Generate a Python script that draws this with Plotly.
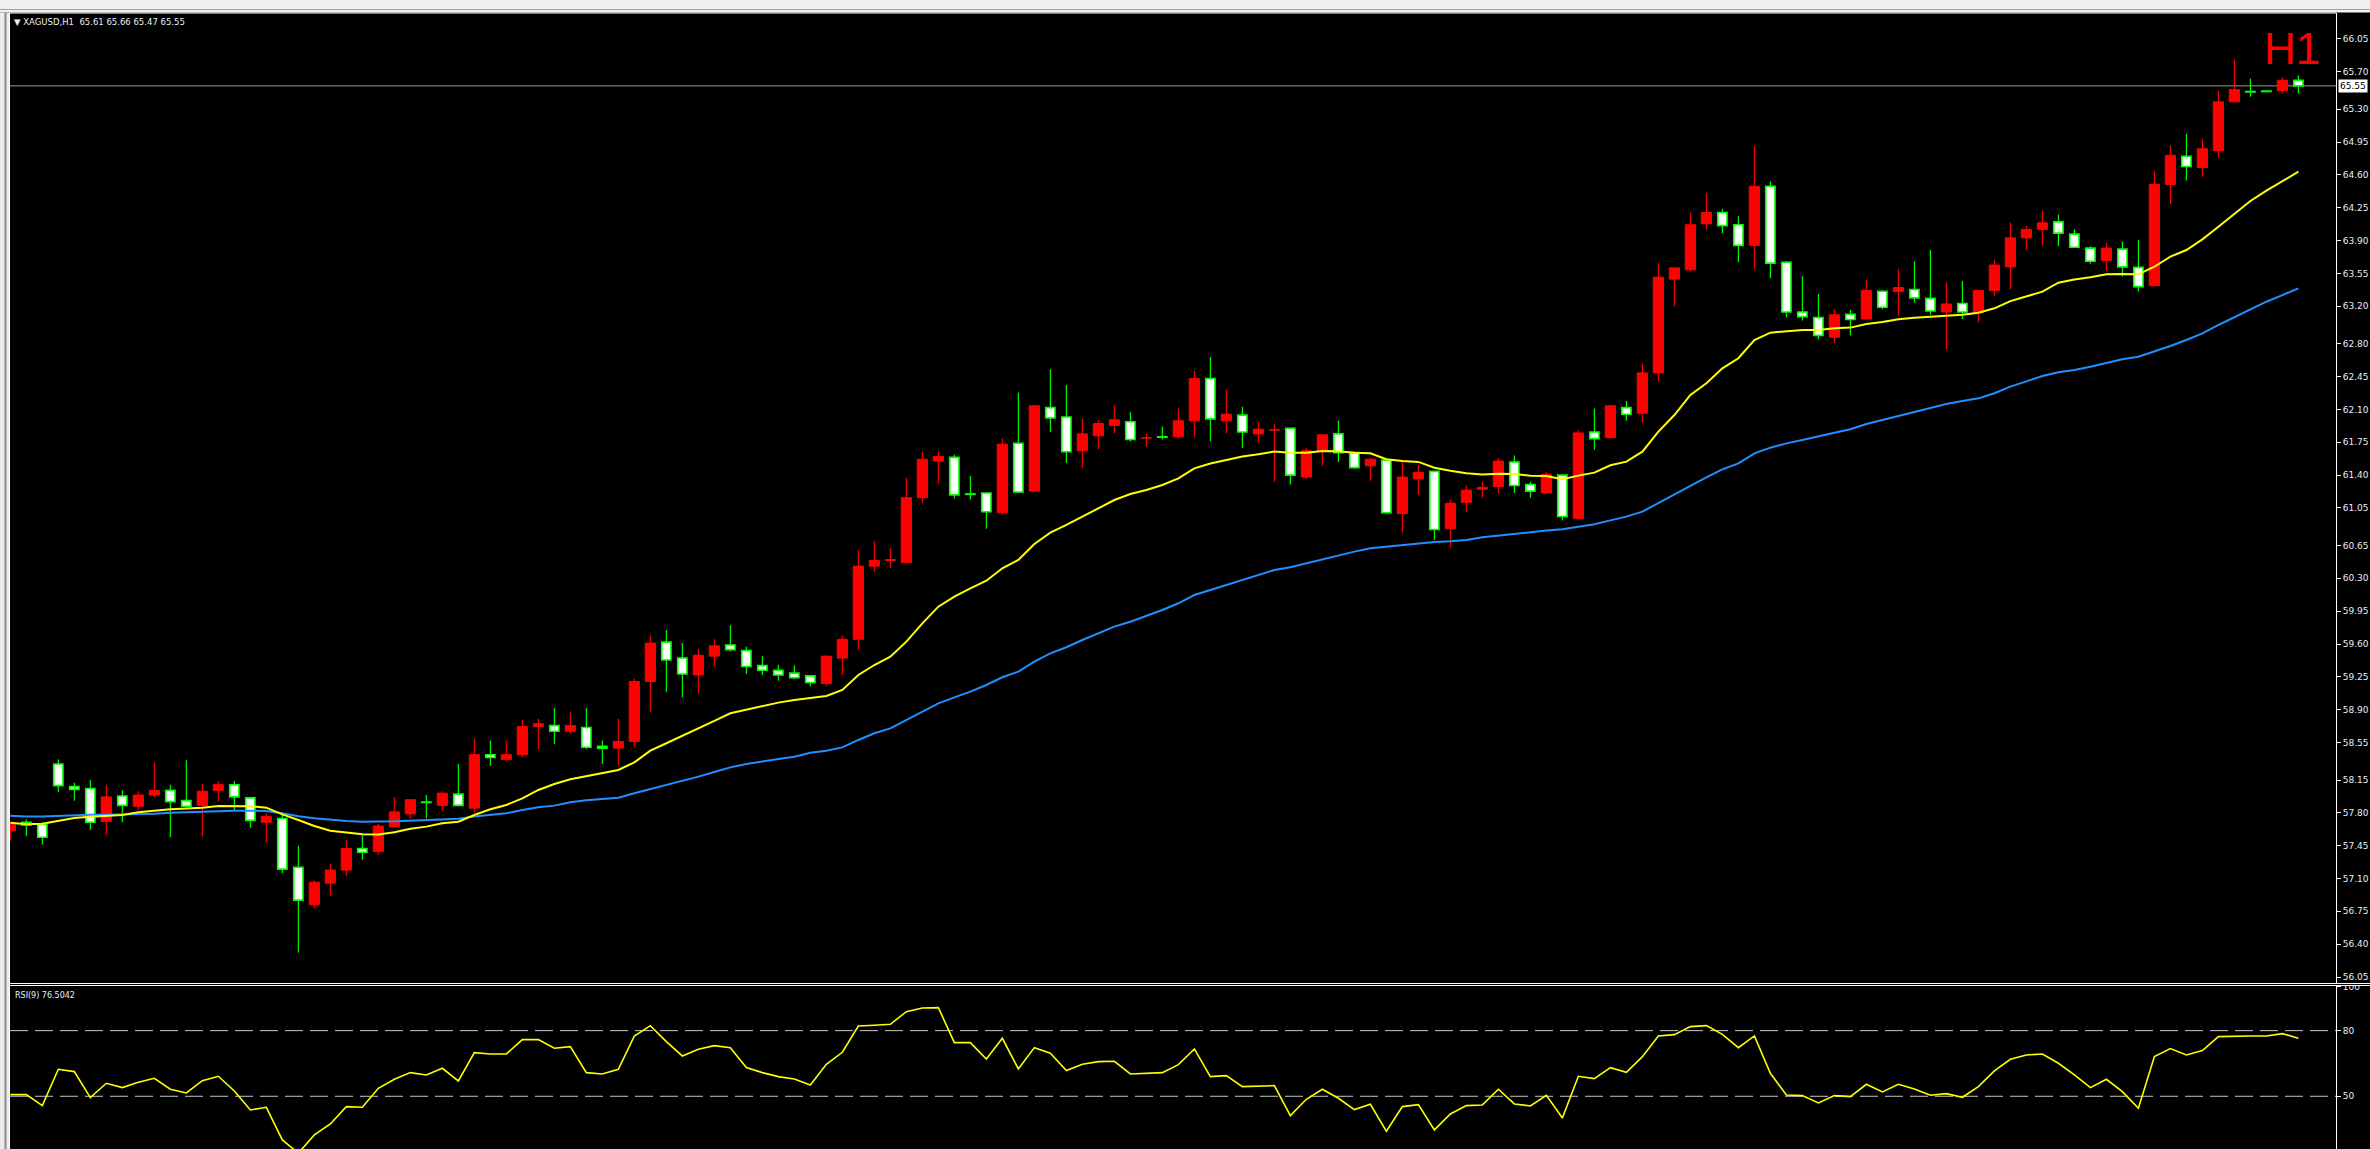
import plotly.graph_objects as go

SYMBOL = "XAGUSD,H1"
RSI_TEXT = "RSI(9) 76.5042"
TIMEFRAME = "H1"

# hourly candles, oldest first
OPEN = [
    57.61, 57.70, 57.68, 58.32, 58.08, 58.06, 57.71, 57.98, 57.87, 57.99,
    58.04, 57.93, 57.88, 58.04, 58.10, 57.96, 57.70, 57.74, 57.22, 56.82,
    57.05, 57.19, 57.42, 57.39, 57.65, 57.79, 57.915, 57.88, 58.00, 57.85,
    58.42, 58.37, 58.42, 58.72, 58.73, 58.67, 58.71, 58.51, 58.49, 58.56,
    59.20, 59.62, 59.45, 59.27, 59.47, 59.59, 59.53, 59.37, 59.32, 59.29,
    59.26, 59.18, 59.45, 59.65, 60.43, 60.49, 60.47, 61.16, 61.55, 61.59,
    61.20, 61.21, 61.00, 61.74, 61.23, 62.12, 62.02, 61.66, 61.82, 61.93,
    61.97, 61.795, 61.81, 61.81, 61.98, 62.43, 61.98, 62.04, 61.84, 61.88,
    61.90, 61.38, 61.66, 61.84, 61.64, 61.50, 61.56, 60.99, 61.36, 61.44,
    60.83, 61.11, 61.25, 61.28, 61.54, 61.30, 61.21, 61.40, 60.94, 61.86,
    61.80, 62.12, 62.06, 62.49, 63.49, 63.59, 64.08, 64.20, 64.07, 63.85,
    64.48, 63.67, 63.14, 63.08, 62.87, 63.115, 63.065, 63.36, 63.36, 63.38,
    63.285, 63.14, 63.23, 63.13, 63.37, 63.62, 63.93, 64.02, 64.10, 63.97,
    63.82, 63.69, 63.81, 63.615, 63.42, 64.50, 64.80, 64.68, 64.86, 65.38,
    65.49, 65.495, 65.50, 65.61,
]
HIGH = [
    57.69, 57.73, 57.70, 58.37, 58.12, 58.15, 58.10, 58.04, 58.03, 58.34,
    58.10, 58.36, 58.11, 58.14, 58.14, 57.97, 57.80, 57.78, 57.45, 57.08,
    57.26, 57.51, 57.56, 57.68, 57.97, 57.94, 57.99, 58.03, 58.32, 58.59,
    58.57, 58.57, 58.79, 58.80, 58.92, 58.87, 58.92, 58.57, 58.80, 59.23,
    59.69, 59.75, 59.61, 59.55, 59.65, 59.80, 59.57, 59.47, 59.38, 59.37,
    59.27, 59.48, 59.69, 60.60, 60.70, 60.62, 61.37, 61.65, 61.65, 61.62,
    61.39, 61.21, 61.79, 62.28, 62.15, 62.53, 62.36, 62.00, 61.99, 62.15,
    62.07, 61.84, 61.92, 62.11, 62.51, 62.66, 62.31, 62.13, 61.97, 61.95,
    61.90, 61.69, 61.83, 61.98, 61.64, 61.59, 61.58, 61.54, 61.51, 61.44,
    61.14, 61.29, 61.33, 61.58, 61.61, 61.33, 61.44, 61.40, 61.88, 62.11,
    62.15, 62.19, 62.59, 63.66, 63.61, 64.20, 64.41, 64.24, 64.16, 64.91,
    64.53, 63.68, 63.52, 63.33, 63.17, 63.16, 63.48, 63.37, 63.60, 63.68,
    63.80, 63.45, 63.47, 63.37, 63.69, 64.09, 64.06, 64.22, 64.18, 64.02,
    63.84, 63.875, 63.89, 63.91, 64.64, 64.92, 65.04, 64.98, 65.495, 65.83,
    65.63, 65.495, 65.64, 65.66,
]
LOW = [
    57.51, 57.55, 57.46, 58.02, 57.93, 57.62, 57.56, 57.70, 57.83, 57.97,
    57.54, 57.86, 57.55, 57.92, 57.83, 57.64, 57.48, 57.16, 56.31, 56.78,
    56.92, 57.13, 57.30, 57.35, 57.65, 57.74, 57.74, 57.82, 57.87, 57.80,
    58.30, 58.35, 58.39, 58.48, 58.53, 58.645, 58.48, 58.32, 58.31, 58.50,
    58.88, 59.09, 59.03, 59.07, 59.36, 59.52, 59.28, 59.27, 59.21, 59.23,
    59.15, 59.15, 59.27, 59.54, 60.37, 60.41, 60.46, 61.10, 61.31, 61.15,
    61.14, 60.83, 60.98, 61.21, 61.22, 61.86, 61.53, 61.48, 61.68, 61.85,
    61.76, 61.70, 61.78, 61.79, 61.81, 61.76, 61.85, 61.69, 61.75, 61.33,
    61.30, 61.36, 61.50, 61.54, 61.47, 61.34, 60.99, 60.79, 61.19, 60.71,
    60.63, 61.01, 61.16, 61.21, 61.21, 61.16, 61.20, 60.92, 60.93, 61.67,
    61.79, 61.98, 61.96, 62.40, 63.20, 63.57, 64.02, 63.98, 63.67, 63.60,
    63.50, 63.08, 63.05, 62.85, 62.81, 62.89, 63.065, 63.17, 63.10, 63.24,
    63.11, 62.745, 63.065, 63.03, 63.31, 63.385, 63.80, 63.85, 63.84, 63.83,
    63.655, 63.58, 63.52, 63.36, 63.41, 64.29, 64.54, 64.58, 64.79, 65.38,
    65.435, 65.49, 65.47, 65.47,
]
CLOSE = [
    57.68, 57.67, 57.54, 58.09, 58.05, 57.70, 57.97, 57.88, 57.99, 58.04,
    57.92, 57.87, 58.03, 58.10, 57.97, 57.72, 57.76, 57.20, 56.87, 57.06,
    57.19, 57.42, 57.38, 57.66, 57.81, 57.94, 57.91, 58.01, 57.88, 58.42,
    58.39, 58.42, 58.72, 58.75, 58.67, 58.73, 58.50, 58.49, 58.56, 59.20,
    59.61, 59.43, 59.28, 59.48, 59.58, 59.54, 59.36, 59.32, 59.27, 59.24,
    59.19, 59.47, 59.65, 60.43, 60.49, 60.50, 61.16, 61.57, 61.60, 61.19,
    61.195, 61.01, 61.73, 61.22, 62.14, 62.01, 61.65, 61.84, 61.95, 61.99,
    61.78, 61.80, 61.805, 61.98, 62.43, 62.00, 62.05, 61.86, 61.89, 61.885,
    61.40, 61.66, 61.83, 61.64, 61.48, 61.57, 61.00, 61.38, 61.43, 60.82,
    61.10, 61.24, 61.27, 61.55, 61.29, 61.23, 61.41, 60.96, 61.85, 61.79,
    62.14, 62.05, 62.49, 63.51, 63.61, 64.07, 64.20, 64.06, 63.85, 64.48,
    63.66, 63.14, 63.09, 62.89, 63.11, 63.06, 63.37, 63.19, 63.40, 63.29,
    63.15, 63.225, 63.14, 63.37, 63.64, 63.93, 64.02, 64.09, 63.98, 63.83,
    63.68, 63.82, 63.62, 63.41, 64.50, 64.81, 64.69, 64.88, 65.38, 65.51,
    65.485, 65.49, 65.61, 65.55,
]
# yellow moving average
MA_FAST = [
    57.695, 57.678, 57.685, 57.713, 57.745, 57.759, 57.770, 57.777, 57.806, 57.823,
    57.838, 57.845, 57.855, 57.873, 57.873, 57.870, 57.855, 57.784, 57.724, 57.660,
    57.610, 57.589, 57.571, 57.568, 57.592, 57.630, 57.653, 57.689, 57.706, 57.777,
    57.838, 57.884, 57.955, 58.044, 58.108, 58.158, 58.193, 58.222, 58.257, 58.339,
    58.463, 58.542, 58.620, 58.694, 58.780, 58.861, 58.901, 58.943, 58.975, 59.004,
    59.025, 59.046, 59.110, 59.270, 59.376, 59.465, 59.625, 59.820, 59.998, 60.105,
    60.193, 60.275, 60.407, 60.496, 60.666, 60.787, 60.869, 60.958, 61.053, 61.135,
    61.199, 61.242, 61.295, 61.366, 61.473, 61.525, 61.562, 61.598, 61.623, 61.651,
    61.640, 61.640, 61.658, 61.655, 61.640, 61.633, 61.569, 61.551, 61.541, 61.480,
    61.448, 61.420, 61.406, 61.416, 61.413, 61.395, 61.392, 61.356, 61.395, 61.427,
    61.505, 61.544, 61.651, 61.864, 62.041, 62.255, 62.379, 62.539, 62.646, 62.841,
    62.919, 62.937, 62.948, 62.948, 62.965, 62.973, 63.012, 63.033, 63.061, 63.079,
    63.090, 63.101, 63.111, 63.132, 63.179, 63.255, 63.303, 63.356, 63.452, 63.487,
    63.509, 63.541, 63.544, 63.541, 63.622, 63.729, 63.800, 63.914, 64.049, 64.191,
    64.323, 64.433, 64.536, 64.635,
]
# blue moving average
MA_SLOW = [
    57.770, 57.760, 57.760, 57.767, 57.777, 57.781, 57.781, 57.784, 57.788, 57.791,
    57.802, 57.809, 57.813, 57.820, 57.823, 57.823, 57.820, 57.795, 57.763, 57.742,
    57.727, 57.713, 57.706, 57.706, 57.710, 57.716, 57.724, 57.735, 57.738, 57.760,
    57.777, 57.795, 57.831, 57.859, 57.877, 57.912, 57.934, 57.952, 57.962, 58.008,
    58.051, 58.094, 58.143, 58.186, 58.236, 58.285, 58.321, 58.350, 58.375, 58.399,
    58.440, 58.463, 58.498, 58.577, 58.648, 58.701, 58.790, 58.879, 58.967, 59.031,
    59.092, 59.163, 59.245, 59.305, 59.412, 59.500, 59.565, 59.643, 59.714, 59.785,
    59.838, 59.899, 59.963, 60.034, 60.122, 60.176, 60.229, 60.283, 60.336, 60.389,
    60.418, 60.460, 60.503, 60.549, 60.585, 60.620, 60.638, 60.656, 60.674, 60.688,
    60.695, 60.709, 60.738, 60.755, 60.780, 60.794, 60.809, 60.823, 60.851, 60.876,
    60.918, 60.958, 61.011, 61.100, 61.189, 61.285, 61.377, 61.462, 61.526, 61.633,
    61.693, 61.739, 61.775, 61.810, 61.853, 61.889, 61.946, 61.988, 62.031, 62.077,
    62.113, 62.159, 62.191, 62.219, 62.273, 62.344, 62.400, 62.457, 62.496, 62.521,
    62.556, 62.599, 62.635, 62.663, 62.716, 62.777, 62.841, 62.912, 63.001, 63.082,
    63.168, 63.249, 63.320, 63.392,
]
RSI = [
    50.76, 50.76, 45.74, 62.33, 61.27, 49.39, 55.94, 53.96, 56.40, 58.22,
    53.20, 51.52, 57.16, 59.14, 52.44, 43.76, 44.97, 30.05, 24.00, 32.34,
    37.36, 45.28, 44.97, 53.65, 57.77, 60.81, 59.75, 62.79, 57.00, 69.95,
    69.34, 69.34, 75.89, 75.89, 71.93, 72.69, 60.81, 60.20, 62.33, 77.56,
    82.28, 74.97, 68.43, 71.47, 73.15, 72.23, 63.10, 60.81, 58.98, 57.92,
    55.18, 64.62, 70.10, 82.13, 82.44, 82.89, 88.68, 90.35, 90.51, 74.52,
    74.52, 67.06, 76.50, 62.49, 72.23, 69.64, 61.73, 64.62, 65.84, 65.99,
    60.20, 60.51, 60.81, 64.47, 71.62, 58.98, 59.44, 54.42, 54.72, 54.87,
    41.17, 48.63, 53.20, 49.09, 43.91, 46.35, 34.01, 45.28, 46.19, 34.62,
    41.93, 45.74, 46.04, 53.20, 46.50, 45.58, 50.46, 40.10, 59.14, 58.07,
    63.10, 60.96, 68.12, 77.56, 78.17, 81.83, 82.28, 78.32, 72.23, 77.56,
    60.51, 50.61, 50.30, 46.95, 50.30, 49.85, 55.48, 51.98, 55.48, 53.35,
    50.46, 51.22, 49.54, 54.42, 61.57, 66.90, 68.88, 69.34, 65.08, 59.75,
    53.96, 57.77, 52.13, 44.52, 68.12, 71.78, 68.88, 70.86, 77.26, 77.56,
    77.56, 77.56, 78.63, 76.50,
]
PRICE_TICKS = [
    66.05, 65.70, 65.30, 64.95, 64.60, 64.25, 63.90, 63.55, 63.20, 62.80,
    62.45, 62.10, 61.75, 61.40, 61.05, 60.65, 60.30, 59.95, 59.60, 59.25,
    58.90, 58.55, 58.15, 57.80, 57.45, 57.10, 56.75, 56.40, 56.05,
]
RSI_TICKS = [100, 80, 50]
RSI_LEVELS = [80, 50]

# screen geometry (pixels)
W, H = 2370, 1149
LEFT, RIGHT, TOP = 10, 2336, 13
MAIN_BOTTOM, RSI_TOP = 983, 986

BULL = "#ff0000"
BEAR_LINE = "#00ff00"
LABEL = "#e8eef8"


def px_x(px):
    return (px - LEFT) / (RIGHT - LEFT)


def px_y(py):
    return (H - py) / (H - TOP)


idx = list(range(len(CLOSE)))
bull = [i for i in idx if CLOSE[i] > OPEN[i]]
bear = [i for i in idx if CLOSE[i] <= OPEN[i]]


def wick_xy(ids):
    xs, ys = [], []
    for i in ids:
        lo_body = min(OPEN[i], CLOSE[i])
        hi_body = max(OPEN[i], CLOSE[i])
        xs += [i, i, None, i, i, None]
        ys += [LOW[i], lo_body, None, hi_body, HIGH[i], None]
    return xs, ys


fig = go.Figure()

fig.add_trace(go.Bar(
    x=bull, base=[OPEN[i] for i in bull], y=[CLOSE[i] - OPEN[i] for i in bull],
    width=0.64, marker=dict(color=BULL, line=dict(color=BULL, width=1)),
))
fig.add_trace(go.Bar(
    x=bear, base=[CLOSE[i] for i in bear], y=[OPEN[i] - CLOSE[i] for i in bear],
    width=0.58, marker=dict(color="#ffffff", line=dict(color=BEAR_LINE, width=1.6)),
))
wx, wy = wick_xy(bull)
fig.add_trace(go.Scatter(x=wx, y=wy, mode="lines", line=dict(color=BULL, width=1.2)))
wx, wy = wick_xy(bear)
fig.add_trace(go.Scatter(x=wx, y=wy, mode="lines", line=dict(color=BEAR_LINE, width=1.2)))

fig.add_trace(go.Scatter(x=idx, y=MA_SLOW, mode="lines",
                         line=dict(color="#1e90ff", width=2)))
fig.add_trace(go.Scatter(x=idx, y=MA_FAST, mode="lines",
                         line=dict(color="#ffff00", width=2)))

fig.add_trace(go.Scatter(x=idx, y=RSI, mode="lines", yaxis="y2",
                         line=dict(color="#ffff00", width=1.6)))

axis_font = dict(family="DejaVu Sans", size=9, color=LABEL)
common_y = dict(
    side="right", showgrid=False, zeroline=False, showline=True,
    linecolor="white", linewidth=1, ticks="outside", ticklen=4,
    tickcolor="white", tickfont=axis_font, automargin=False, fixedrange=True,
)

shapes = []
# current price line
shapes.append(dict(type="line", xref="paper", yref="y", x0=0, x1=1,
                   y0=CLOSE[-1], y1=CLOSE[-1], layer="below",
                   line=dict(color="#9a9a9a", width=1)))
for lv in RSI_LEVELS:
    shapes.append(dict(type="line", xref="paper", yref="y2", x0=0, x1=1,
                       y0=lv, y1=lv, layer="below",
                       line=dict(color="#c8c8c8", width=1, dash="18px,7px")))
# toolbar, window frame and the double separator between panes
shapes += [
    dict(type="rect", xref="paper", yref="paper", x0=px_x(0), x1=px_x(W),
         y0=px_y(12.5), y1=px_y(0), fillcolor="#f0f0f0", line=dict(width=0)),
    dict(type="line", xref="paper", yref="paper", x0=px_x(0), x1=px_x(W),
         y0=px_y(9.5), y1=px_y(9.5), line=dict(color="#a0a0a0", width=1)),
    dict(type="rect", xref="paper", yref="paper", x0=px_x(0), x1=px_x(9),
         y0=px_y(H), y1=px_y(12.5), fillcolor="#ececec", line=dict(width=0)),
    dict(type="line", xref="paper", yref="paper", x0=px_x(5.5), x1=px_x(5.5),
         y0=px_y(H), y1=px_y(12.5), line=dict(color="#8a8a8a", width=2)),
    dict(type="line", xref="paper", yref="paper", x0=px_x(9.5), x1=px_x(9.5),
         y0=px_y(H), y1=px_y(13), line=dict(color="white", width=1)),
    dict(type="line", xref="paper", yref="paper", x0=px_x(9), x1=px_x(RIGHT),
         y0=px_y(13), y1=px_y(13), line=dict(color="white", width=1.2)),
    dict(type="rect", xref="paper", yref="paper", x0=px_x(10), x1=px_x(W),
         y0=px_y(985), y1=px_y(984), fillcolor="black", line=dict(width=0)),
    dict(type="line", xref="paper", yref="paper", x0=px_x(10), x1=px_x(W),
         y0=px_y(983.5), y1=px_y(983.5), line=dict(color="white", width=1)),
    dict(type="line", xref="paper", yref="paper", x0=px_x(10), x1=px_x(W),
         y0=px_y(985.5), y1=px_y(985.5), line=dict(color="white", width=1)),
]

annotations = [
    dict(xref="paper", yref="paper", x=px_x(12), y=px_y(22.5),
         xanchor="left", yanchor="middle", showarrow=False,
         text="\u25bc " + SYMBOL + "  " + " ".join(
             f"{v:.2f}" for v in (OPEN[-1], HIGH[-1], LOW[-1], CLOSE[-1])),
         font=dict(family="DejaVu Sans", size=8.5, color=LABEL)),
    dict(xref="paper", yref="paper", x=px_x(13), y=px_y(995),
         xanchor="left", yanchor="middle", showarrow=False, text=RSI_TEXT,
         font=dict(family="DejaVu Sans", size=8, color=LABEL)),
    dict(xref="paper", yref="paper", x=px_x(2292), y=px_y(48),
         xanchor="center", yanchor="middle", showarrow=False, text=TIMEFRAME,
         font=dict(family="Liberation Sans", size=44, color="#ff0000")),
    dict(xref="paper", yref="y", x=px_x(2337.5), y=CLOSE[-1],
         xanchor="left", yanchor="middle", showarrow=False,
         text=f"{CLOSE[-1]:.2f}", bgcolor="white", borderpad=1,
         font=dict(family="DejaVu Sans", size=9, color="black")),
]

fig.update_layout(
    width=W, height=H,
    margin=dict(l=LEFT, r=W - RIGHT, t=TOP, b=0, pad=0),
    paper_bgcolor="black", plot_bgcolor="black",
    barmode="overlay", showlegend=False, hovermode=False,
    xaxis=dict(visible=False, range=[-0.02, 145.35], fixedrange=True),
    yaxis=dict(domain=[px_y(MAIN_BOTTOM), 1], range=[55.986, 66.327],
               tickvals=PRICE_TICKS, ticktext=[f"{v:.2f}" for v in PRICE_TICKS],
               **common_y),
    yaxis2=dict(domain=[0, px_y(RSI_TOP)], range=[25.9, 100.4],
                tickvals=RSI_TICKS, ticktext=[str(v) for v in RSI_TICKS],
                **common_y),
    shapes=shapes,
    annotations=annotations,
)

fig.write_html(
    "out.html",
    config={"displayModeBar": False},
    post_script="document.body.style.margin='0';"
                "document.body.style.overflow='hidden';"
                "document.body.style.background='#000';",
)
